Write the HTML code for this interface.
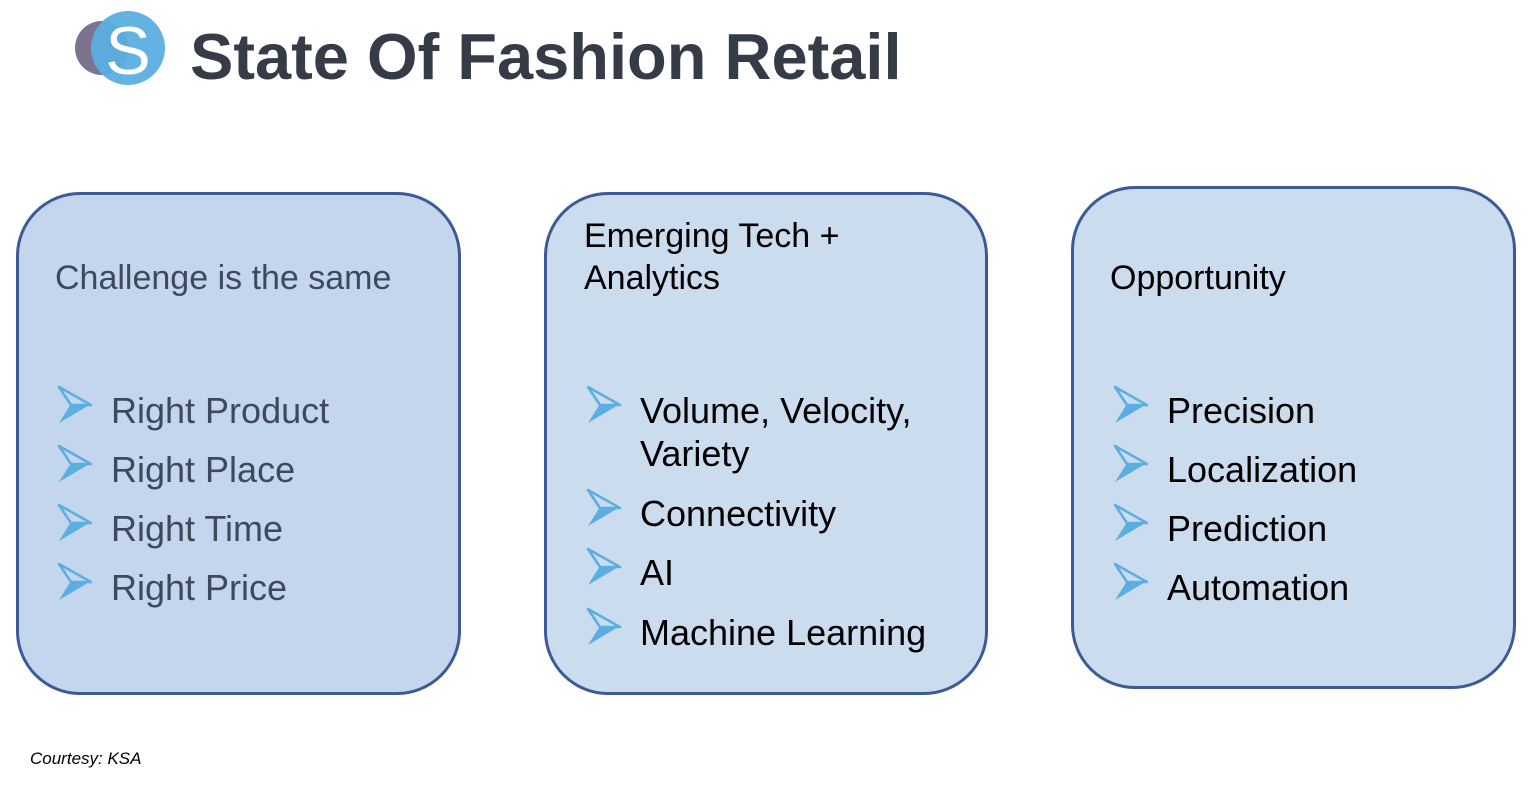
<!DOCTYPE html>
<html><head><meta charset="utf-8"><style>
body{margin:0;width:1536px;height:787px;background:#fff;position:relative;overflow:hidden;font-family:"Liberation Sans",sans-serif}
.t{position:absolute;line-height:1;white-space:nowrap}
.box{position:absolute;border:3px solid #3d5a96;border-radius:64px;box-sizing:border-box}
.h{font-size:34px}
.i{font-size:36px}
svg.a{position:absolute;width:36px;height:40px}
</style></head><body>
<svg style="position:absolute;left:70px;top:6px" width="110" height="86">
<circle cx="32" cy="42" r="27" fill="#7b7390"/>
<circle cx="58" cy="42" r="37" fill="#5aaee0" opacity="0.95"/>
<text x="58" y="68" font-family="Liberation Sans" font-size="68" fill="#fff" text-anchor="middle">S</text>
</svg>
<div class="t" style="left:190px;top:24px;font-size:65px;font-weight:bold;color:#353c47">State Of Fashion Retail</div>

<div class="box" style="left:16px;top:192px;width:445px;height:503px;background:#c3d6ee"></div>
<div class="box" style="left:544px;top:192px;width:444px;height:503px;background:#ccdcef"></div>
<div class="box" style="left:1071px;top:186px;width:445px;height:503px;background:#ccdcef"></div>

<div class="t h" style="left:55px;top:261px;color:#3e4a5c">Challenge is the same</div>
<div class="t h" style="left:584px;top:219px;color:#000">Emerging Tech +</div>
<div class="t h" style="left:584px;top:261px;color:#000">Analytics</div>
<div class="t h" style="left:1110px;top:261px;color:#000">Opportunity</div>

<div class="t i" style="left:111px;top:393px;color:#3e4a5c">Right Product</div>
<div class="t i" style="left:111px;top:452px;color:#3e4a5c">Right Place</div>
<div class="t i" style="left:111px;top:511px;color:#3e4a5c">Right Time</div>
<div class="t i" style="left:111px;top:570px;color:#3e4a5c">Right Price</div>

<div class="t i" style="left:640px;top:393px">Volume, Velocity,</div>
<div class="t i" style="left:640px;top:436px">Variety</div>
<div class="t i" style="left:640px;top:496px">Connectivity</div>
<div class="t i" style="left:640px;top:555px">AI</div>
<div class="t i" style="left:640px;top:615px">Machine Learning</div>

<div class="t i" style="left:1167px;top:393px">Precision</div>
<div class="t i" style="left:1167px;top:452px">Localization</div>
<div class="t i" style="left:1167px;top:511px">Prediction</div>
<div class="t i" style="left:1167px;top:570px">Automation</div>

<svg width="0" height="0" style="position:absolute"><defs><g id="ar">
<polygon points="2,2 34,20 14,20" fill="none" stroke="#5aaee0" stroke-width="2.5" stroke-linejoin="round"/>
<polygon points="14,19 34,19 2,38" fill="#5aaee0"/>
</g></defs></svg>
<svg class="a" style="left:57px;top:385px"><use href="#ar"/></svg>
<svg class="a" style="left:57px;top:444px"><use href="#ar"/></svg>
<svg class="a" style="left:57px;top:503px"><use href="#ar"/></svg>
<svg class="a" style="left:57px;top:562px"><use href="#ar"/></svg>

<svg class="a" style="left:586px;top:385px"><use href="#ar"/></svg>
<svg class="a" style="left:586px;top:488px"><use href="#ar"/></svg>
<svg class="a" style="left:586px;top:547px"><use href="#ar"/></svg>
<svg class="a" style="left:586px;top:607px"><use href="#ar"/></svg>

<svg class="a" style="left:1113px;top:385px"><use href="#ar"/></svg>
<svg class="a" style="left:1113px;top:444px"><use href="#ar"/></svg>
<svg class="a" style="left:1113px;top:503px"><use href="#ar"/></svg>
<svg class="a" style="left:1113px;top:562px"><use href="#ar"/></svg>

<div class="t" style="left:30px;top:750px;font-size:17px;font-style:italic;color:#000">Courtesy: KSA</div>
</body></html>
